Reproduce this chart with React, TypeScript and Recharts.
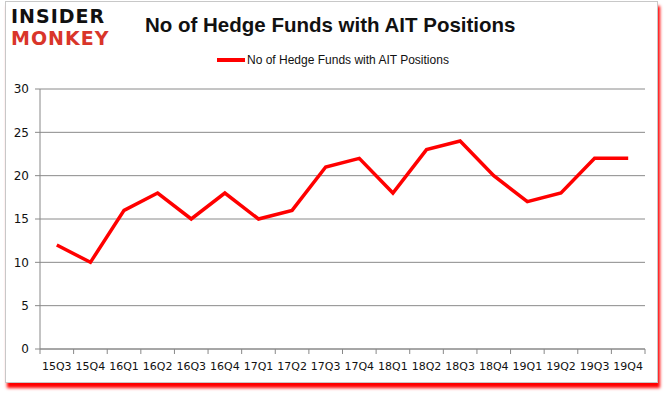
import { CartesianGrid, Line, LineChart, XAxis, YAxis } from 'recharts';

const quarters = ['15Q3', '15Q4', '16Q1', '16Q2', '16Q3', '16Q4', '17Q1', '17Q2', '17Q3', '17Q4', '18Q1', '18Q2', '18Q3', '18Q4', '19Q1', '19Q2', '19Q3', '19Q4'];
const funds = [12, 10, 16, 18, 15, 18, 15, 16, 21, 22, 18, 23, 24, 20, 17, 18, 22, 22];
const yTicks = [0, 5, 10, 15, 20, 25, 30];
const seriesName = 'No of Hedge Funds with AIT Positions';

const data = quarters.map((q, i) => ({ quarter: q, value: funds[i] }));

const PLOT_W = 605;
const HALF_BAND = PLOT_W / quarters.length / 2;

function QuarterTick(props: any) {
    const { x, y, payload, index } = props;
    const last = index === quarters.length - 1;
    return (
        <g>
            <line x1={x - HALF_BAND} x2={x - HALF_BAND} y1={y - 8} y2={y - 3} stroke='#888' />
            {last && <line x1={x + HALF_BAND} x2={x + HALF_BAND} y1={y - 8} y2={y - 3} stroke='#888' />}
            <text x={x} y={y + 13} textAnchor='middle' fontSize={11} fill='#111' fontFamily='DejaVu Sans'>
                {payload.value}
            </text>
        </g>
    );
}

export default function App() {
    return (
        <div style={{ position: 'absolute', left: 0, top: 0, width: 665, height: 393, background: '#fff' }}>
            <div
                style={{
                    position: 'absolute',
                    left: 5,
                    top: 1,
                    width: 651,
                    height: 380,
                    border: '1px solid #c8c8c8',
                    boxShadow: '2px 5px 3px #ff0000',
                    background: '#fff',
                }}
            />
            <div style={{ position: 'absolute', left: 11, top: 5, fontFamily: 'DejaVu Sans', fontWeight: 900, fontSize: 19, letterSpacing: 1, lineHeight: '22px' }}>
                <div style={{ color: '#111' }}>INSIDER</div>
                <div style={{ color: '#d9352a' }}>MONKEY</div>
            </div>
            <div
                style={{
                    position: 'absolute',
                    left: 145,
                    top: 13,
                    fontFamily: 'Liberation Sans',
                    fontWeight: 'bold',
                    fontSize: 20.5,
                    color: '#111',
                    whiteSpace: 'nowrap',
                }}
            >
                No of Hedge Funds with AIT Positions
            </div>
            <div
                style={{
                    position: 'absolute',
                    left: 217,
                    top: 53,
                    display: 'flex',
                    alignItems: 'center',
                    fontFamily: 'Liberation Sans',
                    fontSize: 12,
                    color: '#111',
                    whiteSpace: 'nowrap',
                }}
            >
                <span style={{ display: 'inline-block', width: 28, height: 4, background: '#ff0000', marginRight: 2 }} />
                {seriesName}
            </div>
            <div style={{ position: 'absolute', left: 0, top: 0 }}>
                <LineChart width={665} height={393} data={data} margin={{ top: 89, right: 20, bottom: 14, left: 0 }}>
                    <CartesianGrid vertical={false} stroke='#8a8a8a' strokeWidth={1} />
                    <XAxis
                        dataKey='quarter'
                        interval={0}
                        height={30}
                        padding={{ left: HALF_BAND, right: HALF_BAND }}
                        stroke='#888'
                        tickLine={false}
                        tick={<QuarterTick />}
                    />
                    <YAxis
                        width={40}
                        domain={[0, 30]}
                        ticks={yTicks}
                        interval={0}
                        stroke='#888'
                        tickSize={5}
                        tickMargin={6}
                        tick={{ fill: '#111', fontSize: 12, fontFamily: 'DejaVu Sans' }}
                    />
                    <Line type='linear' dataKey='value' name={seriesName} stroke='#ff0000' strokeWidth={3.5} dot={false} isAnimationActive={false} />
                </LineChart>
            </div>
        </div>
    );
}
